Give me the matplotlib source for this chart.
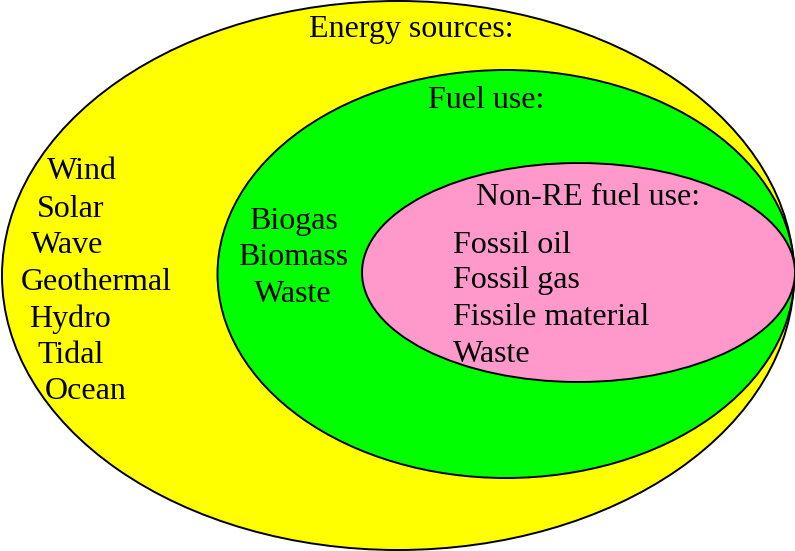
import matplotlib
matplotlib.use("Agg")
import matplotlib.pyplot as plt
from matplotlib.patches import Ellipse

plt.rcParams['font.family'] = ['Liberation Serif', 'DejaVu Serif']

# sets: (label, centre, width, height, colour)
set_names = ["Energy sources:", "Fuel use:", "Non-RE fuel use:"]
set_colors = ["#ffff00", "#00ff00", "#ff99cc"]
set_centres = [(398, 275.5), (506, 274), (578.5, 272.5)]
set_sizes = [(792, 549), (577, 408), (433, 219)]
title_pos = [(411, 37), (486, 108), (588, 205)]

renewables = ["Wind", "Solar", "Wave", "Geothermal", "Hydro", "Tidal", "Ocean"]
renew_x = [47, 37, 31, 21, 29, 37, 45]
renew_y = [179, 217, 253, 290, 327, 363, 399]

re_fuels = ["Biogas", "Biomass", "Waste"]
re_fuel_y = [229, 265, 302]

non_re_fuels = ["Fossil oil", "Fossil gas", "Fissile material", "Waste"]
non_re_y = [253, 288, 325, 362]

fs = 23

fig = plt.figure(figsize=(7.95, 5.51), dpi=100)
ax = fig.add_axes([0, 0, 1, 1])
ax.set_xlim(0, 795)
ax.set_ylim(551, 0)
ax.axis('off')

for name, col, c, (w, h), tp in zip(set_names, set_colors, set_centres, set_sizes, title_pos):
    ax.add_patch(Ellipse(c, w, h, facecolor=col, edgecolor='black', lw=1.4))
    ax.text(tp[0], tp[1], name, fontsize=fs, ha='center', va='baseline')

for t, x, y in zip(renewables, renew_x, renew_y):
    ax.text(x, y, t, fontsize=fs, ha='left', va='baseline')

for t, y in zip(re_fuels, re_fuel_y):
    ax.text(293, y, t, fontsize=fs, ha='center', va='baseline')

for t, y in zip(non_re_fuels, non_re_y):
    ax.text(453, y, t, fontsize=fs, ha='left', va='baseline')

fig.savefig("out.png", dpi=100)
